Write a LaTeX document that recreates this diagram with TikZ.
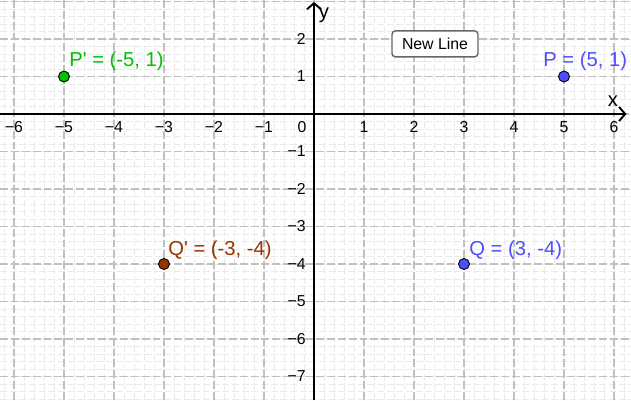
\documentclass[tikz,border=0pt]{standalone}
\usepackage{fontspec}
\setmainfont{Liberation Sans}
\usetikzlibrary{arrows.meta}

\definecolor{ptblue}{HTML}{4D4DFF}
\definecolor{ptgreen}{HTML}{00C000}
\definecolor{ptbrown}{HTML}{993300}
\definecolor{majorgray}{HTML}{C0C0C0}
\definecolor{minorgray}{HTML}{EAEAEA}

\tikzset{
    minorgrid/.style = {minorgray, line width = 0.5pt, dash pattern = on 4pt off 1.5pt},
    majorgrid/.style = {majorgray, line width = 0.6pt, dash pattern = on 4.5pt off 1.7pt},
    axisline/.style  = {black, line width = 1.1pt, -{Straight Barb[length = 3.5pt, width = 8pt]}},
    ticklbl/.style   = {font = \fontsize{9}{10}\selectfont, inner sep = 0pt},
    ylbl/.style      = {ticklbl, anchor = east},
    pt/.style        = {circle, draw = black, line width = 0.5pt, minimum size = 0.22cm, inner sep = 0pt},
    ptlbl/.style     = {font = \fontsize{11.5}{13}\selectfont, inner sep = 0pt, anchor = base west},
    button/.style    = {draw = black!60, line width = 0.8pt, rounded corners = 2pt, fill = white,
                        minimum width = 1.72cm, minimum height = 0.52cm, inner sep = 0pt,
                        font = \fontsize{9}{10}\selectfont}
}

\begin{document}
\begin{tikzpicture}[yscale = 0.75]
    \useasboundingbox (-6.28,-7.627) rectangle (6.34,3.04);

    \draw [minorgrid] (-6.28,-7.627) grid [step = 0.2] (6.34,3.04);
    \draw [majorgrid] (-6.28,-7.627) grid [step = 1] (6.34,3.04);

    \coordinate (xstart) at (-6.28,0);
    \coordinate (xend)   at (6.25,0);
    \coordinate (ystart) at (0,-7.627);
    \coordinate (yend)   at (0,2.99);

    \draw [axisline] (xstart) -- (xend);
    \draw [axisline] (ystart) -- (yend);

    \node (xname) [font = \fontsize{11.5}{13}\selectfont, inner sep = 0pt] at (5.98,0.35) {x};
    \node (yname) [font = \fontsize{11.5}{13}\selectfont, inner sep = 0pt] at (0.2,2.62) {y};

    \node (xtm6) [ticklbl] at (-6,-0.35) {−6};
    \node (xtm5) [ticklbl] at (-5,-0.35) {−5};
    \node (xtm4) [ticklbl] at (-4,-0.35) {−4};
    \node (xtm3) [ticklbl] at (-3,-0.35) {−3};
    \node (xtm2) [ticklbl] at (-2,-0.35) {−2};
    \node (xtm1) [ticklbl] at (-1,-0.35) {−1};
    \node (xt0)  [ticklbl] at (-0.24,-0.35) {0};
    \node (xtp1) [ticklbl] at (1,-0.35) {1};
    \node (xtp2) [ticklbl] at (2,-0.35) {2};
    \node (xtp3) [ticklbl] at (3,-0.35) {3};
    \node (xtp4) [ticklbl] at (4,-0.35) {4};
    \node (xtp5) [ticklbl] at (5,-0.35) {5};
    \node (xtp6) [ticklbl] at (6,-0.35) {6};

    \node (ytp2) [ylbl] at (-0.16,2)  {2};
    \node (ytp1) [ylbl] at (-0.16,1)  {1};
    \node (ytm1) [ylbl] at (-0.16,-1) {−1};
    \node (ytm2) [ylbl] at (-0.16,-2) {−2};
    \node (ytm3) [ylbl] at (-0.16,-3) {−3};
    \node (ytm4) [ylbl] at (-0.16,-4) {−4};
    \node (ytm5) [ylbl] at (-0.16,-5) {−5};
    \node (ytm6) [ylbl] at (-0.16,-6) {−6};
    \node (ytm7) [ylbl] at (-0.16,-7) {−7};

    \node (newline) [button] at (2.42,1.87) {New Line};

    \node (P)  [pt, fill = ptblue]  at (5,1)   {};
    \node (Pp) [pt, fill = ptgreen] at (-5,1)  {};
    \node (Q)  [pt, fill = ptblue]  at (3,-4)  {};
    \node (Qp) [pt, fill = ptbrown] at (-3,-4) {};

    \node (Plbl)  [ptlbl, ptblue]  at (4.58,1.26)  {P = (5, 1)};
    \node (Pplbl) [ptlbl, ptgreen] at (-4.9,1.26)  {P\textquotesingle{} = (-5, 1)};
    \node (Qlbl)  [ptlbl, ptblue]  at (3.1,-3.76)  {Q = (3, -4)};
    \node (Qplbl) [ptlbl, ptbrown] at (-2.92,-3.76) {Q\textquotesingle{} = (-3, -4)};
\end{tikzpicture}
\end{document}
